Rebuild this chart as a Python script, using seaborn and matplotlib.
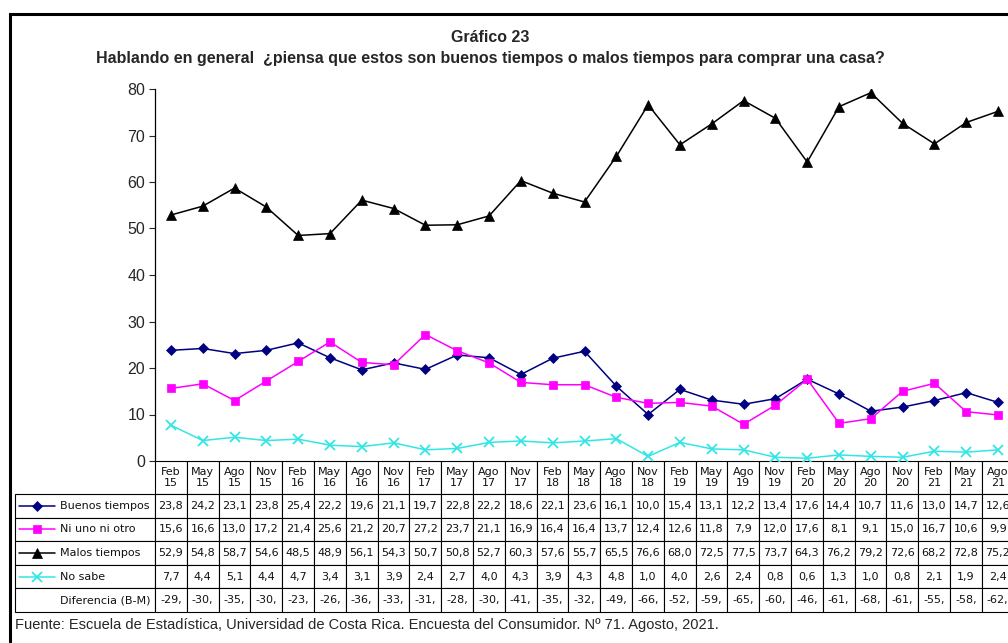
import numpy as np
import pandas as pd
import matplotlib.pyplot as plt
import matplotlib.lines as mlines
import matplotlib.patches as mpatches
import seaborn as sns

periodos = ['Feb\n15', 'May\n15', 'Ago\n15', 'Nov\n15', 'Feb\n16', 'May\n16', 'Ago\n16', 'Nov\n16',
            'Feb\n17', 'May\n17', 'Ago\n17', 'Nov\n17', 'Feb\n18', 'May\n18', 'Ago\n18', 'Nov\n18',
            'Feb\n19', 'May\n19', 'Ago\n19', 'Nov\n19', 'Feb\n20', 'May\n20', 'Ago\n20', 'Nov\n20',
            'Feb\n21', 'May\n21', 'Ago\n21']
buenos = [23.8, 24.2, 23.1, 23.8, 25.4, 22.2, 19.6, 21.1, 19.7, 22.8, 22.2, 18.6, 22.1, 23.6,
          16.1, 10.0, 15.4, 13.1, 12.2, 13.4, 17.6, 14.4, 10.7, 11.6, 13.0, 14.7, 12.6]
ni_uno = [15.6, 16.6, 13.0, 17.2, 21.4, 25.6, 21.2, 20.7, 27.2, 23.7, 21.1, 16.9, 16.4, 16.4,
          13.7, 12.4, 12.6, 11.8, 7.9, 12.0, 17.6, 8.1, 9.1, 15.0, 16.7, 10.6, 9.9]
malos = [52.9, 54.8, 58.7, 54.6, 48.5, 48.9, 56.1, 54.3, 50.7, 50.8, 52.7, 60.3, 57.6, 55.7,
         65.5, 76.6, 68.0, 72.5, 77.5, 73.7, 64.3, 76.2, 79.2, 72.6, 68.2, 72.8, 75.2]
no_sabe = [7.7, 4.4, 5.1, 4.4, 4.7, 3.4, 3.1, 3.9, 2.4, 2.7, 4.0, 4.3, 3.9, 4.3,
           4.8, 1.0, 4.0, 2.6, 2.4, 0.8, 0.6, 1.3, 1.0, 0.8, 2.1, 1.9, 2.4]

series = [
    ('Buenos tiempos', buenos, '#000080', 'D', 5.5),
    ('Ni uno ni otro', ni_uno, '#FF00FF', 's', 6),
    ('Malos tiempos', malos, '#000000', '^', 6.5),
    ('No sabe', no_sabe, '#33E6E6', 'x', 6.5),
]

df = pd.DataFrame({'pos': np.arange(len(periodos)), 'buenos': buenos, 'malos': malos})
df['dif'] = df['buenos'] - df['malos']

sns.set_style('white')
plt.rcParams['font.family'] = ['Liberation Sans', 'DejaVu Sans']
narrow = ['Liberation Sans Narrow', 'Liberation Sans', 'DejaVu Sans']

W, H = 1008, 643
fig = plt.figure(figsize=(W / 100, H / 100), dpi=100)
ax = fig.add_axes([155 / W, (H - 461) / H, 859 / W, 372 / H])

for name, vals, color, marker, ms in series:
    sns.lineplot(x=np.arange(len(vals)), y=vals, ax=ax, color=color, marker=marker,
                 markersize=ms, linewidth=1.1, markeredgecolor=color,
                 markeredgewidth=1.3 if marker == 'x' else 0.5)

ax.set_xlim(-0.5, len(periodos) - 0.5)
ax.set_ylim(0, 80)
ax.set_yticks(range(0, 81, 10))
ax.set_xticks([])
ax.tick_params(axis='y', labelsize=11.5, length=4, width=0.8, direction='out', left=True, pad=3)
for s in ['top', 'right', 'bottom']:
    ax.spines[s].set_visible(False)
ax.spines['left'].set_linewidth(0.9)
ax.spines['left'].set_color('black')
ax.set_xlabel('')
ax.set_ylabel('')

# Data table below the plot
fmt = lambda v: f'{v:.1f}'.replace('.', ',')
rows = []
for name, vals, *_ in series:
    rows.append([name] + [fmt(v) for v in vals])
rows.append(['Diferencia (B-M)'] + [fmt(v)[:4] for v in df['dif']])

header_h, row_h = 33, 23.6
tab_h = header_h + row_h * len(rows)
tab_left = 15
label_w, col_w = 155 - tab_left, 31.8
tbl = ax.table(cellText=rows, colLabels=[''] + periodos,
               colWidths=[label_w] + [col_w] * len(periodos),
               cellLoc='center',
               bbox=[(tab_left - 155) / 859, -tab_h / 372,
                     (label_w + col_w * len(periodos)) / 859, tab_h / 372])
tbl.auto_set_font_size(False)
tbl.set_fontsize(8)
for (r, c), cell in tbl.get_celld().items():
    cell.set_height(header_h if r == 0 else row_h)
    cell.set_linewidth(0.8)
    cell.set_edgecolor('black')
    cell.get_text().set_fontfamily('DejaVu Sans')
    cell.get_text().set_color('#111111')
    if r == 0:
        cell.get_text().set_linespacing(1.1)
        if c == 0:
            cell.visible_edges = ''
    if c == 0 and r > 0:
        cell.get_text().set_ha('left')
        cell.PAD = (60 - tab_left) / label_w

# legend keys in the label column
x0, x1 = (19 - 155) / 859, (55 - 155) / 859
for i, (name, vals, color, marker, ms) in enumerate(series):
    yc = -(header_h + (i + 0.5) * row_h) / 372
    ax.add_artist(mlines.Line2D([x0, x1], [yc, yc], color=color, lw=1.1,
                                transform=ax.transAxes, clip_on=False))
    ax.add_artist(mlines.Line2D([(x0 + x1) / 2], [yc], color=color, marker=marker, ms=ms,
                                mec=color, mew=1.3 if marker == 'x' else 0.5,
                                transform=ax.transAxes, clip_on=False))

fig.text(490 / W, 1 - 38 / H, 'Gráfico 23', ha='center', va='center', fontsize=11.5,
         fontweight='bold', family=narrow)
fig.text(490 / W, 1 - 58 / H,
         'Hablando en general  ¿piensa que estos son buenos tiempos o malos tiempos para comprar una casa?',
         ha='center', va='center', fontsize=11.5, fontweight='bold', family=narrow)
fig.text(15 / W, 1 - 625 / H,
         'Fuente: Escuela de Estadística, Universidad de Costa Rica. Encuesta del Consumidor. Nº 71. Agosto, 2021.',
         ha='left', va='center', fontsize=10.5, family=narrow)

fig.add_artist(mpatches.Rectangle((10 / W, -0.05), 1.2, (H - 14) / H + 0.05, transform=fig.transFigure,
                                  fill=False, lw=2.2, ec='black'))

fig.savefig('out.png', dpi=100)
